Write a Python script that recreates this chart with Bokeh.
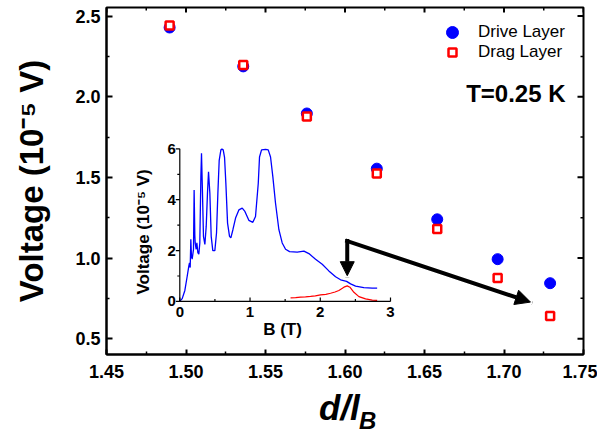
import math
from bokeh.plotting import figure
from bokeh.models import (Range1d, LinearAxis, FixedTicker, PrintfTickFormatter,
                          Legend, LegendItem, Label, Arrow, NormalHead)
from bokeh.core.properties import value
from bokeh.embed import file_html
from bokeh.resources import INLINE

# ---------------- data ----------------
d_over_lB = [1.4897, 1.5360, 1.5760, 1.6200, 1.6580, 1.6960, 1.7290]
drive_layer_V = [2.429, 2.188, 1.896, 1.554, 1.240, 0.993, 0.844]
drag_layer_V = [2.441, 2.196, 1.877, 1.524, 1.180, 0.876, 0.640]

x_ticks = [1.45, 1.50, 1.55, 1.60, 1.65, 1.70, 1.75]
x_minor_ticks = [1.475, 1.525, 1.575, 1.625, 1.675, 1.725]
y_ticks = [0.5, 1.0, 1.5, 2.0, 2.5]
y_minor_ticks = [0.75, 1.25, 1.75, 2.25]

# inset: voltage vs magnetic field
inset_B_drive = [0.000, 0.034, 0.072, 0.106, 0.129, 0.138, 0.148, 0.157, 0.166, 0.176,
                 0.195, 0.204, 0.214, 0.219, 0.233, 0.243, 0.257, 0.271, 0.285, 0.300,
                 0.309, 0.323, 0.337, 0.357, 0.376, 0.394, 0.409, 0.428, 0.447, 0.470,
                 0.499, 0.523, 0.542, 0.561, 0.585, 0.600, 0.618, 0.637, 0.656, 0.680,
                 0.708, 0.727, 0.756, 0.794, 0.841, 0.889, 0.927, 0.983, 1.040, 1.078,
                 1.117, 1.135, 1.164, 1.221, 1.259, 1.292, 1.325, 1.363, 1.411, 1.458,
                 1.506, 1.563, 1.672, 1.767, 1.838, 1.933, 2.028, 2.122, 2.218, 2.289,
                 2.375, 2.432, 2.503, 2.620, 2.740, 2.810]
inset_V_drive = [0.00, 0.11, 0.43, 1.00, 1.40, 1.52, 1.33, 2.44, 1.79, 1.66,
                 2.05, 4.38, 2.60, 2.30, 2.05, 2.30, 1.92, 1.86, 2.30, 4.90,
                 5.83, 4.25, 2.56, 2.24, 2.95, 4.25, 5.10, 4.25, 2.56, 2.00,
                 2.00, 2.70, 4.25, 5.55, 5.96, 5.99, 5.96, 5.67, 4.64, 3.08,
                 2.56, 2.50, 2.82, 3.28, 3.60, 3.67, 3.54, 3.19, 3.11, 3.34,
                 4.64, 5.68, 5.96, 5.98, 5.96, 5.68, 4.90, 3.86, 2.82, 2.30,
                 2.05, 1.96, 1.94, 1.98, 1.88, 1.66, 1.46, 1.20, 0.97, 0.85,
                 0.79, 0.69, 0.60, 0.54, 0.52, 0.52]
inset_B_drag = [1.577, 1.650, 1.719, 1.790, 1.862, 1.930, 2.004, 2.080, 2.146, 2.210,
                2.265, 2.337, 2.384, 2.422, 2.479, 2.550, 2.645, 2.740, 2.810]
inset_V_drag = [0.14, 0.15, 0.17, 0.18, 0.20, 0.22, 0.26, 0.28, 0.32, 0.37,
                0.43, 0.56, 0.61, 0.56, 0.36, 0.19, 0.10, 0.05, 0.04]
inset_B_ticks = [0, 1, 2, 3]
inset_B_minor = [0.5, 1.5, 2.5]
inset_V_ticks = [0, 2, 4, 6]
inset_V_minor = [1, 3, 5]

# ---------------- layout constants ----------------
FONT = "Liberation Sans"
W, H = 597, 436
FL, FR, FT, FB = 106, 583, 7, 358          # frame edges in canvas px
IX0, IX3 = 179.3, 390.0                    # canvas px of B=0 and B=3 in inset
IY0, IY6 = 304.3, 150.0                    # canvas px of V=0 and V=6 in inset
X0, X1 = 1.45, 1.75
Y0, Y1 = 0.402, 2.553

p = figure(width=W, height=H, x_range=Range1d(X0, X1), y_range=Range1d(Y0, Y1),
           output_backend="svg", toolbar_location=None,
           min_border_left=FL, min_border_right=W - FR,
           min_border_top=FT, min_border_bottom=H - FB)
p.grid.visible = False
p.outline_line_color = "black"
p.outline_line_width = 2
p.background_fill_color = "white"
p.border_fill_color = "white"

# inset scales mapped onto the frame
bpx = (IX3 - IX0) / 3.0
vpx = (IY0 - IY6) / 6.0
p.extra_x_ranges = {"bx": Range1d((FL - IX0) / bpx, (FR - IX0) / bpx)}
p.extra_y_ranges = {"by": Range1d((IY0 - FB) / vpx, (IY0 - FT) / vpx)}

# ---------------- main axes ----------------
xa = p.xaxis[0]
ya = p.yaxis[0]
xa.ticker = FixedTicker(ticks=x_ticks, minor_ticks=x_minor_ticks)
xa.formatter = PrintfTickFormatter(format="%.2f")
ya.ticker = FixedTicker(ticks=y_ticks, minor_ticks=y_minor_ticks)
ya.formatter = PrintfTickFormatter(format="%.1f")

for ax in (xa, ya):
    ax.axis_line_width = 2
    ax.axis_line_color = "black"
    ax.major_tick_line_width = 2
    ax.minor_tick_line_width = 1.5
    ax.major_tick_line_color = "black"
    ax.minor_tick_line_color = "black"
    ax.major_tick_out = 0
    ax.minor_tick_out = 0
    ax.major_tick_in = 6
    ax.minor_tick_in = 3
    ax.major_label_text_font = FONT
    ax.major_label_text_font_style = "bold"
    ax.major_label_text_font_size = "18px"
    ax.major_label_text_color = "black"
xa.major_tick_in = 5
xa.major_label_standoff = 10
ya.major_label_standoff = 6
ya.axis_label = "Voltage (10\u207b\u2075 V)"
ya.axis_label_text_font = FONT
ya.axis_label_text_font_style = "bold"
ya.axis_label_text_font_size = "33px"
ya.axis_label_text_color = "black"
ya.axis_label_standoff = 22

# mirrored inward ticks on top and right edges
p.ray(x=x_ticks, y=[Y1] * len(x_ticks), length=5, length_units="screen",
      angle=-math.pi / 2, line_color="black", line_width=2)
p.ray(x=x_minor_ticks, y=[Y1] * len(x_minor_ticks), length=3, length_units="screen",
      angle=-math.pi / 2, line_color="black", line_width=1.5)
p.ray(x=[X1] * len(y_ticks), y=y_ticks, length=6, length_units="screen",
      angle=math.pi, line_color="black", line_width=2)
p.ray(x=[X1] * len(y_minor_ticks), y=y_minor_ticks, length=3, length_units="screen",
      angle=math.pi, line_color="black", line_width=1.5)

# x-axis title "d/l_B" built from two extra (line-less) axes below the main one
X_B, X_DL = 1.6143, 1.5965


def title_axis(pos, text, size, standoff):
    ax = LinearAxis(ticker=FixedTicker(ticks=[pos], minor_ticks=[]),
                    major_label_overrides={pos: text},
                    major_label_standoff=standoff,
                    axis_line_color=None, major_tick_line_color=None,
                    minor_tick_line_color=None,
                    major_tick_in=0, major_tick_out=0, minor_tick_in=0, minor_tick_out=0,
                    major_label_text_font=FONT, major_label_text_font_style="bold italic",
                    major_label_text_font_size=size, major_label_text_color="black")
    p.add_layout(ax, "below")


title_axis(X_B, "B", "24px", 26)
title_axis(X_DL, "d/l", "35px", -49)

# ---------------- inset ----------------
inset = dict(x_range_name="bx", y_range_name="by")
p.line(inset_B_drive, inset_V_drive, line_color="#0000FF", line_width=1.3, **inset)
p.line(inset_B_drag, inset_V_drag, line_color="#FF0000", line_width=1.2, **inset)

b0, b1 = inset_B_ticks[0], inset_B_ticks[-1]
v0, v1 = inset_V_ticks[0], inset_V_ticks[-1]
p.line([b0, b0, b1], [v1, v0, v0], line_color="black", line_width=1.2,
       line_join="miter", **inset)
p.ray(x=inset_B_ticks, y=[v0] * len(inset_B_ticks), length=4, length_units="screen",
      angle=math.pi / 2, line_color="black", line_width=1.2, **inset)
p.ray(x=inset_B_minor, y=[v0] * len(inset_B_minor), length=2.5, length_units="screen",
      angle=math.pi / 2, line_color="black", line_width=1.2, **inset)
p.ray(x=[b0] * len(inset_V_ticks), y=inset_V_ticks, length=4, length_units="screen",
      angle=math.pi, line_color="black", line_width=1.2, **inset)
p.ray(x=[b0] * len(inset_V_minor), y=inset_V_minor, length=2.5, length_units="screen",
      angle=math.pi, line_color="black", line_width=1.2, **inset)
p.text(x=inset_B_ticks, y=[v0] * len(inset_B_ticks), text=[str(t) for t in inset_B_ticks],
       text_align="center", text_baseline="middle", y_offset=11,
       text_font=value(FONT), text_font_style="bold", text_font_size="15px",
       text_color="black", **inset)
p.text(x=[b0] * len(inset_V_ticks), y=inset_V_ticks, text=[str(t) for t in inset_V_ticks],
       text_align="right", text_baseline="middle", x_offset=-4,
       text_font=value(FONT), text_font_style="bold", text_font_size="15px",
       text_color="black", **inset)
p.text(x=[1.462], y=[-1.116], text=["B (T)"], text_align="center", text_baseline="middle",
       text_font=value(FONT), text_font_style="bold", text_font_size="17px",
       text_color="black", **inset)
p.text(x=[-0.52], y=[2.733], text=["Voltage (10\u207b\u2075 V)"], angle=math.pi / 2,
       text_align="center", text_baseline="middle",
       text_font=value(FONT), text_font_style="bold", text_font_size="17px",
       text_color="black", **inset)

# arrows (in inset coordinates)
corner_B, corner_V = 2.384, 2.372
p.add_layout(Arrow(x_start=corner_B, y_start=corner_V, x_end=corner_B, y_end=1.011,
                   line_width=4, line_color="black", line_cap="square",
                   end=NormalHead(size=14, fill_color="black", line_color="black", line_width=1),
                   **inset))
p.add_layout(Arrow(x_start=corner_B, y_start=corner_V, x_end=4.993, y_end=-0.027,
                   line_width=4, line_color="black", line_cap="square",
                   end=NormalHead(size=15, fill_color="black", line_color="black", line_width=1),
                   **inset))

# ---------------- main data ----------------
r_drive = p.scatter(d_over_lB, drive_layer_V, marker="circle", size=11,
                    fill_color="#0000FF", line_color="#0000FF")
r_drag = p.scatter(d_over_lB, drag_layer_V, marker="square", size=8,
                   fill_color="white", line_color="#FF0000", line_width=2.5)


def make_legend(label, renderer, glyph, standoff, loc):
    lg = Legend(items=[LegendItem(label=label, renderers=[renderer])], location=loc,
                glyph_width=glyph, glyph_height=glyph, label_standoff=standoff,
                padding=0, margin=0, spacing=0, border_line_color=None,
                background_fill_alpha=0, label_text_font=FONT,
                label_text_font_size="17px", label_text_color="black")
    p.add_layout(lg)


make_legend("Drive Layer", r_drive, 30, 11, (331, 307))
make_legend("Drag Layer", r_drag, 20, 16, (336, 292))

p.add_layout(Label(x=1.7387, y=2.020, text="T=0.25 K", text_align="right",
                   text_baseline="alphabetic", text_font=FONT, text_font_style="bold",
                   text_font_size="24px", text_color="black"))

open("out.html", "w").write(file_html(p, INLINE))
